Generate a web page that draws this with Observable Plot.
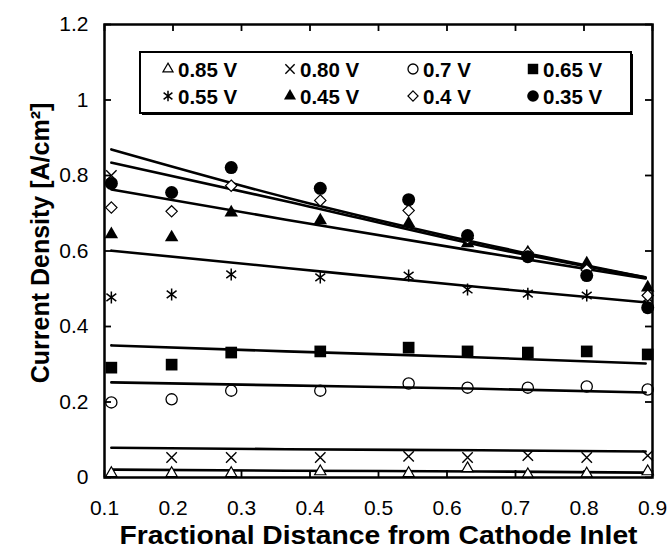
<!DOCTYPE html>
<html>
<head>
<meta charset="utf-8">
<script src="https://cdn.jsdelivr.net/npm/d3@7"></script>
<script src="https://cdn.jsdelivr.net/npm/@observablehq/plot@0.6"></script>
<style>
html, body { margin: 0; padding: 0; background: #fff; }
#wrap { width: 671px; height: 555px; }
</style>
</head>
<body>
<div id="wrap"></div>
<script>
// ---------- data ----------
const distance = [0.11, 0.198, 0.285, 0.415, 0.544, 0.63, 0.718, 0.804, 0.893];
const voltages = ["0.85 V", "0.80 V", "0.7 V", "0.65 V", "0.55 V", "0.45 V", "0.4 V", "0.35 V"];

const cd085 = [0.011, 0.011, 0.011, 0.016, 0.011, 0.024, 0.008, 0.010, 0.016];
const cd080 = [0.800, 0.053, 0.053, 0.053, 0.056, 0.053, 0.058, 0.053, 0.058];
const cd070 = [0.199, 0.207, 0.230, 0.230, 0.249, 0.238, 0.238, 0.241, 0.233];
const cd065 = [0.291, 0.299, 0.331, 0.334, 0.344, 0.334, 0.331, 0.334, 0.326];
const cd055 = [0.477, 0.485, 0.538, 0.530, 0.535, 0.498, 0.487, 0.482, 0.475];
const cd045 = [0.644, 0.636, 0.702, 0.681, 0.673, 0.620, 0.596, 0.567, 0.503];
const cd040 = [0.715, 0.705, 0.773, 0.734, 0.707, 0.633, 0.595, 0.550, 0.482];
const cd035 = [0.779, 0.755, 0.821, 0.766, 0.736, 0.641, 0.585, 0.535, 0.450];

// trend lines
const fitDistance = [0.11, 0.365, 0.65, 0.89];
const fit085 = [0.021, 0.018, 0.016, 0.013];
const fit080 = [0.079, 0.075, 0.072, 0.069];
const fit070 = [0.252, 0.244, 0.235, 0.225];
const fit065 = [0.350, 0.334, 0.318, 0.302];
const fit055 = [0.601, 0.555, 0.504, 0.464];
const fit045 = [0.763, 0.683, 0.597, 0.527];
const fit040 = [0.834, 0.732, 0.614, 0.530];
const fit035 = [0.869, 0.742, 0.620, 0.530];

const xTicks = [0.1, 0.2, 0.3, 0.4, 0.5, 0.6, 0.7, 0.8, 0.9];
const yTicks = [0, 0.2, 0.4, 0.6, 0.8, 1, 1.2];

const xTitle = "Fractional Distance from Cathode Inlet";
const yTitle = "Current Density [A/cm²]";

// ---------- styling ----------
const W = 671, H = 555, ML = 104, MR = 19, MT = 24, MB = 78;
const frameW = W - ML - MR, frameH = H - MT - MB, TICK = 7;

const asterisk6 = {
  draw(ctx, size) {
    const r = Math.sqrt(size / Math.PI);
    ctx.moveTo(0, -r); ctx.lineTo(0, r);
    const a = r * 0.82, b = r * 0.62;
    ctx.moveTo(-a, -b); ctx.lineTo(a, b);
    ctx.moveTo(-a, b); ctx.lineTo(a, -b);
  }
};

const measured = [cd085, cd080, cd070, cd065, cd055, cd045, cd040, cd035];
const fitted = [fit085, fit080, fit070, fit065, fit055, fit045, fit040, fit035];
const styles = [
  { symbol: "triangle", d3sym: d3.symbolTriangle, r: 4.2, fill: "white", stroke: "black", sw: 1.2 },
  { symbol: "times", d3sym: d3.symbolTimes, r: 4.8, fill: "none", stroke: "black", sw: 1.4 },
  { symbol: "circle", d3sym: d3.symbolCircle, r: 5.6, fill: "none", stroke: "black", sw: 1.3 },
  { symbol: "square", d3sym: d3.symbolSquare, r: 6.6, fill: "black", stroke: "none", sw: 0 },
  { symbol: asterisk6, d3sym: asterisk6, r: 6.0, fill: "none", stroke: "black", sw: 1.5 },
  { symbol: "triangle", d3sym: d3.symbolTriangle, r: 5.0, fill: "black", stroke: "none", sw: 0 },
  { symbol: "diamond2", d3sym: d3.symbolDiamond2, r: 5.1, fill: "white", stroke: "black", sw: 1.2 },
  { symbol: "circle", d3sym: d3.symbolCircle, r: 6.5, fill: "black", stroke: "none", sw: 0 }
];

const lineMarks = fitted.map(f =>
  Plot.line(fitDistance.map((x, j) => ({ x, y: f[j] })), {
    x: "x", y: "y", curve: "monotone-x", stroke: "black", strokeWidth: 2.6
  })
);
const dotMarks = measured.map((vals, i) => {
  const s = styles[i];
  return Plot.dot(vals.map((y, j) => ({ x: distance[j], y })), {
    x: "x", y: "y", symbol: () => s.symbol, r: s.r,
    fill: s.fill, stroke: s.stroke, strokeWidth: s.sw
  });
});
const tk = { stroke: "black", strokeWidth: 1.8 };

const plot = Plot.plot({
  width: W, height: H,
  marginLeft: ML, marginRight: MR, marginTop: MT, marginBottom: MB,
  style: { fontFamily: "Arial, 'Liberation Sans', sans-serif", fontSize: "21px", color: "black", background: "white" },
  x: { domain: [0.1, 0.9] },
  y: { domain: [0, 1.2] },
  marks: [
    Plot.axisX(xTicks, { tickSize: 0, tickPadding: 23, tickFormat: d => String(d), label: null, fontSize: 21 }),
    Plot.axisY(yTicks, { tickSize: 0, tickPadding: 16, tickFormat: d => String(d), label: null, fontSize: 21 }),
    // inward tick marks on all four sides
    Plot.tickY(yTicks, { y: d => d, insetRight: frameW - TICK, ...tk }),
    Plot.tickY(yTicks, { y: d => d, insetLeft: frameW - TICK, ...tk }),
    Plot.tickX(xTicks, { x: d => d, insetTop: frameH - TICK, ...tk }),
    Plot.tickX(xTicks, { x: d => d, insetBottom: frameH - TICK, ...tk }),
    ...lineMarks,
    ...dotMarks,
    Plot.frame({ stroke: "black", strokeWidth: 2.5 }),
    Plot.text([xTitle], { frameAnchor: "bottom", dy: 66, fontWeight: "bold", fontSize: 26, fill: "black", textAnchor: "middle", className: "xtitle" }),
    Plot.text([yTitle], { frameAnchor: "left", dx: -64, dy: -8, rotate: -90, fontWeight: "bold", fontSize: 25, fill: "black", textAnchor: "middle" })
  ]
});

document.getElementById("wrap").appendChild(plot);
const svg = d3.select(plot);
// the reference's x title is set wide; stretch it to the same extent
svg.selectAll(".xtitle text").attr("textLength", 518).attr("lengthAdjust", "spacingAndGlyphs");

// ---------- legend (boxed, inside the plot area) ----------
const lg = svg.append("g").attr("class", "legend").attr("text-anchor", "start");
const box = { x: 140, y: 52, w: 491, h: 61 };
lg.append("rect").attr("x", box.x + 2).attr("y", box.y + 2).attr("width", box.w).attr("height", box.h).attr("fill", "black");
lg.append("rect").attr("x", box.x).attr("y", box.y).attr("width", box.w).attr("height", box.h)
  .attr("fill", "white").attr("stroke", "black").attr("stroke-width", 2);
const colX = [168, 290, 413, 533];
const rowY = [69, 96];
voltages.forEach((v, i) => {
  const s = styles[i];
  const cx = colX[i % 4], cy = rowY[Math.floor(i / 4)];
  lg.append("path")
    .attr("transform", `translate(${cx},${cy})`)
    .attr("d", d3.symbol(s.d3sym, Math.PI * s.r * s.r * 0.8)())
    .attr("fill", s.fill).attr("stroke", s.stroke).attr("stroke-width", s.sw);
  lg.append("text").attr("x", cx + 10).attr("y", cy + 7.5)
    .attr("text-anchor", "start")
    .attr("font-weight", "bold").attr("font-size", 20.5).attr("fill", "black").text(v);
});
</script>
</body>
</html>
